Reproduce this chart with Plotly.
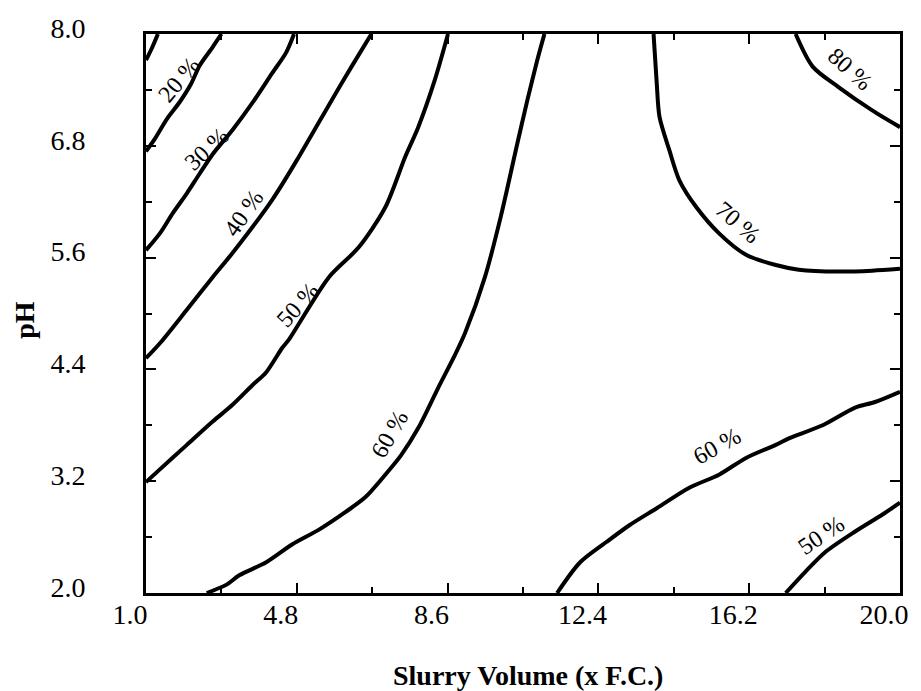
import math
import plotly.graph_objects as go

# Contour lines (x = slurry volume, y = pH)
c10_x = [1.0, 1.15, 1.30]
c10_y = [7.72, 7.85, 8.0]

c20_x = [1.0, 1.20, 1.53, 1.85, 2.13, 2.35, 2.68, 2.90]
c20_y = [6.74, 6.86, 7.09, 7.27, 7.46, 7.66, 7.86, 8.0]

c30_x = [1.0, 1.35, 1.68, 2.03, 2.35, 2.68, 3.18, 3.68, 4.18, 4.53, 4.73]
c30_y = [5.68, 5.86, 6.08, 6.29, 6.50, 6.71, 6.97, 7.26, 7.58, 7.80, 8.0]

c40_x = [1.0, 1.35, 2.03, 2.68, 3.18, 4.18, 4.85, 5.68, 6.18, 6.68]
c40_y = [4.52, 4.68, 5.04, 5.39, 5.65, 6.22, 6.68, 7.29, 7.65, 8.0]

c50a_x = [1.0, 1.28, 2.03, 2.68, 3.18, 3.68, 4.03, 4.43, 4.60, 5.61, 6.36, 7.03, 7.53, 7.86, 8.28, 8.61]
c50a_y = [3.19, 3.30, 3.59, 3.84, 4.02, 4.23, 4.37, 4.63, 4.72, 5.39, 5.71, 6.14, 6.68, 7.00, 7.51, 8.0]

c60a_x = [2.53, 3.03, 3.35, 4.03, 4.68, 5.36, 6.03, 6.53, 7.03, 7.43, 7.86, 8.36, 8.78, 9.04,
          9.54, 9.94, 10.36, 10.61, 10.86, 11.04]
c60a_y = [2.0, 2.09, 2.19, 2.33, 2.52, 2.68, 2.87, 3.03, 3.27, 3.48, 3.77, 4.20, 4.55, 4.79,
          5.39, 6.04, 6.83, 7.29, 7.72, 8.0]

c60b_x = [11.36, 11.94, 12.61, 13.19, 13.87, 14.69, 15.44, 16.12, 16.87, 17.20, 18.05, 18.87, 19.37, 20.0]
c60b_y = [2.0, 2.33, 2.55, 2.73, 2.91, 3.13, 3.27, 3.45, 3.59, 3.66, 3.80, 3.99, 4.05, 4.16]

c50b_x = [17.12, 17.62, 18.12, 18.87, 19.55, 20.0]
c50b_y = [2.0, 2.23, 2.44, 2.66, 2.84, 2.97]

c70_x = [13.79, 13.87, 13.94, 14.19, 14.44, 14.87, 15.44, 16.12, 16.87, 17.45, 18.45, 19.30, 20.0]
c70_y = [8.0, 7.47, 7.11, 6.75, 6.43, 6.14, 5.86, 5.63, 5.52, 5.47, 5.45, 5.46, 5.48]

c80_x = [17.37, 17.80, 18.45, 19.30, 20.0]
c80_y = [8.0, 7.65, 7.43, 7.18, 7.0]

# Contour labels
label_text = ["20 %", "30 %", "40 %", "50 %", "60 %", "70 %", "80 %", "60 %", "50 %"]
label_x = [1.90, 2.60, 3.55, 4.90, 7.23, 15.84, 18.67, 15.44, 18.07]
label_y = [7.48, 6.73, 6.05, 5.06, 3.68, 5.95, 7.59, 3.54, 2.59]
label_angle = [-50, -43, -55, -48, -60, 41, 42, -29, -34]

x_ticks = [1.0, 4.8, 8.6, 12.4, 16.2, 20.0]
y_ticks = [2.0, 3.2, 4.4, 5.6, 6.8, 8.0]

FONT = "Liberation Serif"

fig = go.Figure()
for xs, ys in [(c10_x, c10_y), (c20_x, c20_y), (c30_x, c30_y), (c40_x, c40_y),
               (c50a_x, c50a_y), (c60a_x, c60a_y), (c60b_x, c60b_y), (c50b_x, c50b_y),
               (c70_x, c70_y), (c80_x, c80_y)]:
    fig.add_trace(go.Scatter(x=xs, y=ys, mode="lines",
                             line=dict(color="black", width=4, shape="spline", smoothing=0.8),
                             showlegend=False, hoverinfo="skip"))

OFF = 4  # small offset so text sits beside its line
for t, x, y, a in zip(label_text, label_x, label_y, label_angle):
    r = math.radians(abs(a))
    xs = -OFF * math.sin(r) if a < 0 else OFF * math.sin(r)
    ys = OFF * math.cos(r)
    fig.add_annotation(x=x, y=y, text=t, textangle=a, showarrow=False, xshift=xs, yshift=ys,
                       font=dict(family=FONT, size=24, color="black"))

fig.add_annotation(xref="paper", yref="paper", x=(531 - 146) / 759, y=-(675 - 593) / 559,
                   yanchor="middle", xanchor="center",
                   text="<b>Slurry Volume (x F.C.)</b>", showarrow=False,
                   font=dict(family=FONT, size=28, color="black"))
fig.add_annotation(xref="paper", yref="paper", x=-(146 - 23) / 759, y=(593 - 320) / 559,
                   xanchor="center", yanchor="middle",
                   text="<b>pH</b>", textangle=-90, showarrow=False,
                   font=dict(family=FONT, size=28, color="black"))

axis_common = dict(showline=True, linecolor="black", linewidth=3, mirror="ticks",
                   ticks="inside", ticklen=10, tickwidth=2, tickcolor="black",
                   showgrid=False, zeroline=False,
                   tickfont=dict(family=FONT, size=28, color="black"))

fig.update_xaxes(range=[1, 20], tickvals=x_ticks, ticktext=[f"{v:.1f}" for v in x_ticks],
                 ticklabelshift=-16, ticklabelstandoff=-6,
                 minor=dict(dtick=1.9, tick0=1.0, ticks="inside", ticklen=6, tickwidth=2, tickcolor="black"),
                 **axis_common)
fig.update_yaxes(range=[2, 8], tickvals=y_ticks, ticktext=[f"{v:.1f}" for v in y_ticks],
                 ticklabelshift=-6, ticklabelstandoff=52,
                 minor=dict(dtick=0.6, tick0=2.0, ticks="inside", ticklen=6, tickwidth=2, tickcolor="black"),
                 **axis_common)

fig.update_layout(width=921, height=691, margin=dict(l=146, r=16, t=34, b=98),
                  paper_bgcolor="white", plot_bgcolor="white")

fig.write_html("out.html")
